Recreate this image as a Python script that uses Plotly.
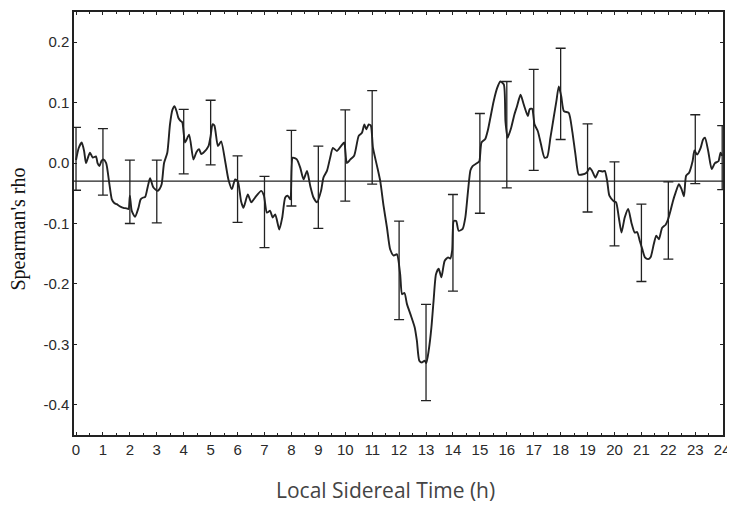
import plotly.graph_objects as go

# Curve: Spearman's rho vs local sidereal time (hours)
lst_hours = [0.0, 0.1, 0.21, 0.3, 0.37, 0.45, 0.52, 0.62, 0.74, 0.8, 0.87, 0.95, 1.02, 1.12, 1.24, 1.33, 1.42, 1.51, 1.65, 1.76, 1.88, 1.95, 2.0, 2.07, 2.19, 2.32, 2.4, 2.5, 2.57, 2.66, 2.75, 2.87, 3.02, 3.1, 3.18, 3.27, 3.39, 3.49, 3.58, 3.66, 3.74, 3.8, 3.88, 3.95, 4.05, 4.2, 4.36, 4.47, 4.57, 4.65, 4.73, 4.92, 5.0, 5.07, 5.14, 5.27, 5.39, 5.54, 5.66, 5.79, 5.91, 6.01, 6.13, 6.22, 6.38, 6.51, 6.65, 6.88, 6.98, 7.09, 7.21, 7.3, 7.4, 7.55, 7.66, 7.77, 7.86, 7.96, 8.05, 8.2, 8.33, 8.45, 8.58, 8.7, 8.82, 8.95, 9.1, 9.19, 9.32, 9.44, 9.54, 9.69, 9.84, 9.96, 10.06, 10.19, 10.33, 10.5, 10.62, 10.71, 10.78, 10.87, 10.95, 11.03, 11.18, 11.3, 11.42, 11.55, 11.67, 11.8, 11.92, 12.04, 12.11, 12.2, 12.29, 12.42, 12.58, 12.66, 12.75, 12.85, 12.95, 13.01, 13.1, 13.2, 13.28, 13.37, 13.47, 13.57, 13.69, 13.82, 13.9, 13.97, 14.03, 14.12, 14.21, 14.36, 14.46, 14.56, 14.65, 14.73, 14.9, 14.98, 15.06, 15.2, 15.3, 15.39, 15.51, 15.64, 15.76, 15.89, 15.95, 16.03, 16.16, 16.28, 16.38, 16.51, 16.63, 16.78, 16.85, 16.94, 17.03, 17.15, 17.27, 17.4, 17.5, 17.62, 17.74, 17.84, 17.93, 18.02, 18.12, 18.3, 18.43, 18.55, 18.67, 18.8, 18.96, 19.08, 19.17, 19.29, 19.42, 19.57, 19.64, 19.73, 19.81, 19.97, 20.06, 20.16, 20.26, 20.38, 20.51, 20.63, 20.75, 20.84, 20.94, 21.03, 21.13, 21.25, 21.34, 21.46, 21.55, 21.65, 21.77, 21.9, 21.99, 22.08, 22.17, 22.27, 22.39, 22.49, 22.58, 22.66, 22.77, 22.9, 22.97, 23.07, 23.2, 23.29, 23.36, 23.48, 23.61, 23.73, 23.86, 23.94, 24.0]
rho_values = [0.005, 0.025, 0.034, 0.02, 0.0, 0.01, 0.017, 0.009, 0.011, 0.0, -0.005, 0.004, 0.006, 0.0, -0.035, -0.06, -0.066, -0.068, -0.072, -0.074, -0.075, -0.076, -0.054, -0.079, -0.089, -0.074, -0.06, -0.057, -0.056, -0.04, -0.025, -0.04, -0.046, -0.043, -0.035, 0.0, 0.017, 0.064, 0.088, 0.094, 0.085, 0.075, 0.07, 0.067, 0.034, 0.047, 0.006, 0.018, 0.023, 0.015, 0.017, 0.028, 0.045, 0.064, 0.062, 0.028, 0.036, 0.003, -0.027, -0.043, -0.027, -0.03, -0.063, -0.074, -0.052, -0.065, -0.057, -0.046, -0.054, -0.082, -0.079, -0.09, -0.085, -0.11, -0.09, -0.057, -0.054, -0.06, 0.009, 0.006, -0.008, -0.027, -0.013, -0.038, -0.057, -0.065, -0.046, -0.024, -0.013, 0.009, 0.025, 0.02, 0.028, 0.034, 0.0, 0.006, 0.012, 0.045, 0.05, 0.064, 0.056, 0.064, 0.062, 0.025, -0.005, -0.03, -0.07, -0.107, -0.143, -0.153, -0.151, -0.184, -0.217, -0.215, -0.233, -0.25, -0.272, -0.294, -0.327, -0.33, -0.327, -0.331, -0.31, -0.272, -0.228, -0.184, -0.175, -0.189, -0.162, -0.156, -0.158, -0.145, -0.096, -0.096, -0.112, -0.109, -0.09, -0.046, -0.012, -0.005, 0.0, 0.003, 0.034, 0.04, 0.055, 0.075, 0.102, 0.124, 0.135, 0.13, 0.069, 0.042, 0.058, 0.08, 0.094, 0.113, 0.097, 0.078, 0.089, 0.09, 0.064, 0.053, 0.031, 0.009, 0.01, 0.042, 0.075, 0.102, 0.127, 0.111, 0.086, 0.083, 0.053, 0.014, -0.019, -0.019, -0.016, -0.008, -0.013, -0.024, -0.013, -0.014, -0.013, -0.03, -0.054, -0.063, -0.065, -0.09, -0.115, -0.09, -0.076, -0.099, -0.115, -0.114, -0.129, -0.142, -0.156, -0.159, -0.156, -0.134, -0.12, -0.126, -0.107, -0.102, -0.093, -0.079, -0.063, -0.049, -0.035, -0.043, -0.055, -0.021, -0.016, 0.003, 0.021, 0.014, 0.025, 0.039, 0.042, 0.02, -0.01, 0.0, 0.003, 0.017, 0.012]

# Error bars at each hour: upper and lower ends
bar_hours = list(range(0, 25))
bar_upper = [0.059, 0.057, 0.005, 0.005, 0.089, 0.104, 0.012, -0.022, 0.054, 0.028, 0.088, 0.12, -0.096, -0.234, -0.052, 0.082, 0.135, 0.155, 0.19, 0.065, 0.002, -0.068, -0.031, 0.08, 0.062]
bar_lower = [-0.045, -0.053, -0.1, -0.099, -0.018, -0.003, -0.098, -0.14, -0.071, -0.108, -0.063, -0.035, -0.259, -0.393, -0.212, -0.083, -0.041, -0.012, 0.039, -0.081, -0.137, -0.196, -0.159, -0.034, -0.044]

reference_rho = -0.03

x_tick_vals = list(range(0, 25))
x_tick_text = [str(v) for v in x_tick_vals]
y_tick_vals = [0.2, 0.1, 0.0, -0.1, -0.2, -0.3, -0.4]
y_tick_text = ["0.2", "0.1", "0.0", "-0.1", "-0.2", "-0.3", "-0.4"]

bar_mid = [(u + l) / 2 for u, l in zip(bar_upper, bar_lower)]
bar_half = [(u - l) / 2 for u, l in zip(bar_upper, bar_lower)]

ink = "#222222"

fig = go.Figure()
fig.add_trace(go.Scatter(
    x=bar_hours, y=bar_mid, mode="markers",
    marker=dict(size=1, color="rgba(0,0,0,0)"),
    error_y=dict(type="data", array=bar_half, symmetric=True,
                 color=ink, thickness=1.3, width=5),
    showlegend=False, hoverinfo="skip", cliponaxis=False,
))
fig.add_trace(go.Scatter(
    x=lst_hours, y=rho_values, mode="lines",
    line=dict(color=ink, width=1.9, shape="spline", smoothing=0.6),
    showlegend=False,
))
fig.add_hline(y=reference_rho, line=dict(color=ink, width=1.2))

# page body has an 8px margin, so the plot area is offset to compensate
fig.update_layout(
    width=727, height=506,
    margin=dict(l=66, r=12, t=4, b=79),
    paper_bgcolor="white", plot_bgcolor="white",
    annotations=[
        dict(text="Local Sidereal Time (h)", xref="paper", yref="paper",
             x=0.5, y=0, xshift=-13, yshift=-55, xanchor="center", yanchor="middle",
             showarrow=False,
             font=dict(family="Open Sans", size=21, color="#444444")),
        dict(text="Spearman's rho", xref="paper", yref="paper",
             x=0, y=0.5, xshift=-56, yshift=-6, xanchor="center", yanchor="middle",
             textangle=-90, showarrow=False,
             font=dict(family="Liberation Serif", size=20, color="#111111")),
    ],
)
fig.update_xaxes(
    range=[-0.075, 24.03], tickvals=x_tick_vals, ticktext=x_tick_text,
    showgrid=False, zeroline=False, showline=True, linecolor=ink, linewidth=1.5,
    mirror="ticks", ticks="inside", ticklen=3, tickcolor=ink,
    minor=dict(dtick=0.5, ticks="inside", ticklen=2, tickcolor=ink),
    tickfont=dict(family="Liberation Sans", size=15, color="#2a2a2a"),
    automargin=False,
)
fig.update_yaxes(
    range=[-0.45, 0.25], tickvals=y_tick_vals, ticktext=y_tick_text,
    showgrid=False, zeroline=False, showline=True, linecolor=ink, linewidth=1.5,
    mirror="ticks", ticks="inside", ticklen=3, tickcolor=ink,
    tickfont=dict(family="Liberation Sans", size=15, color="#2a2a2a"),
    automargin=False,
)

fig.write_html("out.html")
